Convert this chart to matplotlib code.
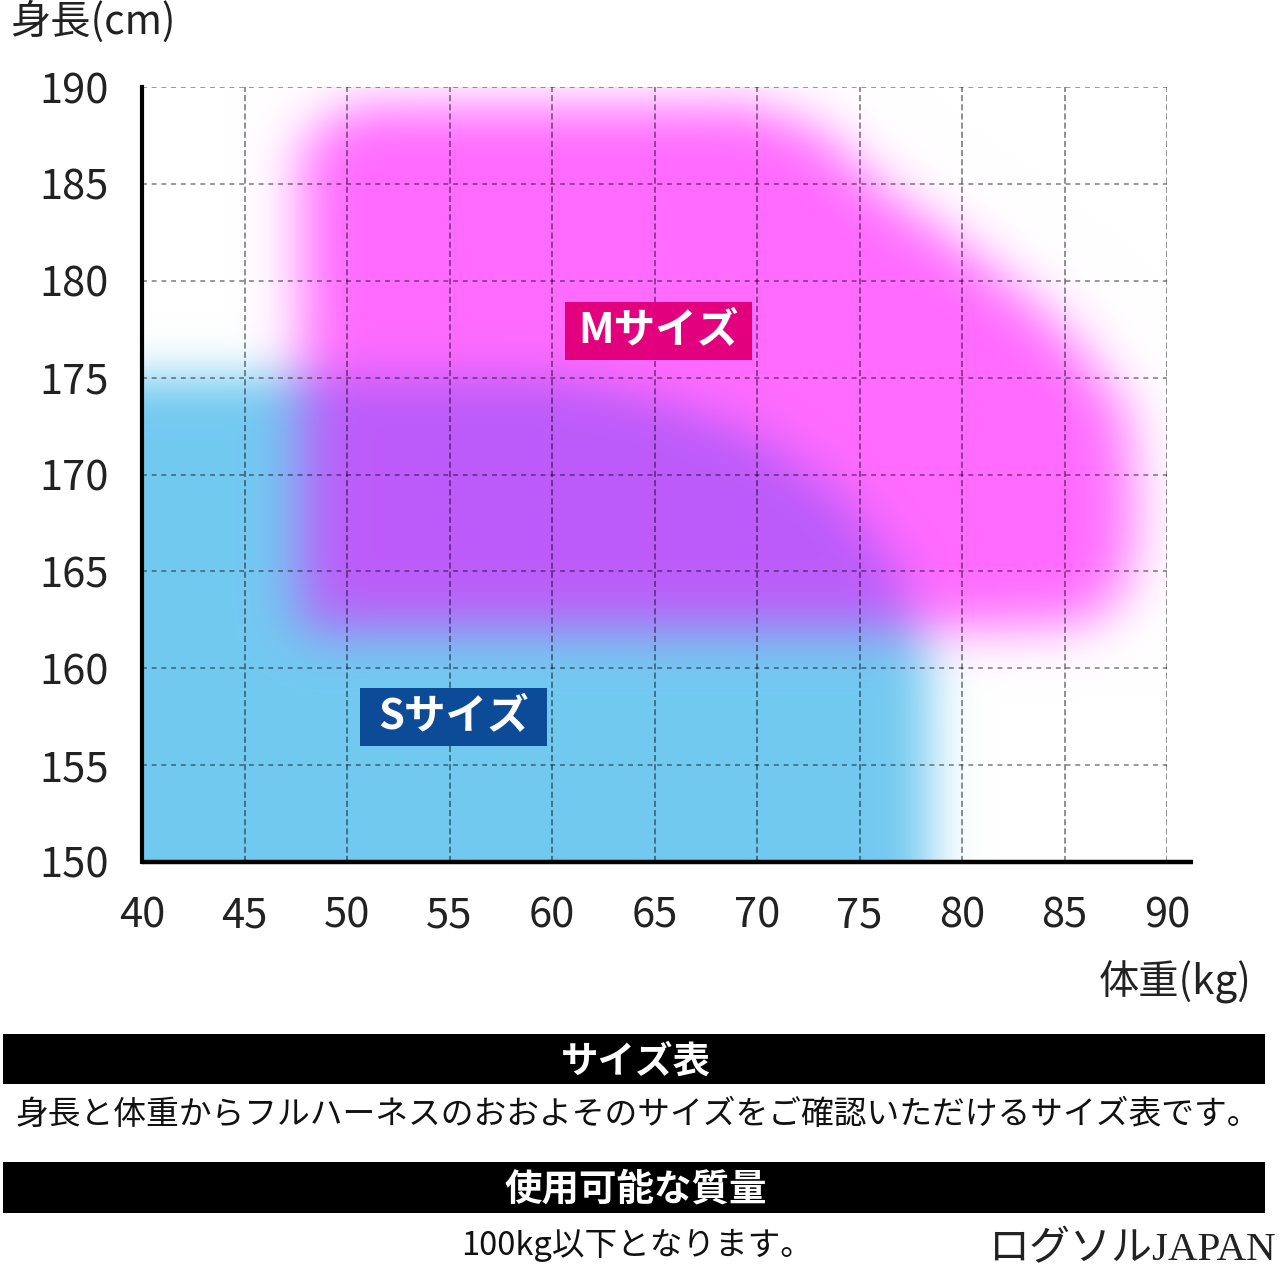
import numpy as np
import matplotlib
matplotlib.use('Agg')
import matplotlib.pyplot as plt
from matplotlib.path import Path
from matplotlib.patches import Rectangle

plt.rcParams['font.family'] = ['Noto Sans CJK JP', 'DejaVu Sans']

# axis ticks
weight_ticks = [40, 45, 50, 55, 60, 65, 70, 75, 80, 85, 90]
height_ticks = [150, 155, 160, 165, 170, 175, 180, 185, 190]

# S size area (kg, cm) - runs past the axes so the left/bottom edges stay sharp
s_weight = [30, 30, 60, 65, 70, 74, 77, 78.5, 78.5]
s_height = [140, 175, 175, 174, 172, 169, 165, 160, 140]

# M size area outline (kg, cm)
m_weight = [47.8, 47.8, 50, 70, 73, 76, 80, 83, 85.5, 88, 88.5, 88, 86, 80, 50]
m_height = [162, 187, 189, 189, 187.8, 184.8, 181.8, 179.3, 176.8, 173.3, 168, 164, 162.3, 162, 162]

# label boxes
size_labels = ['Mサイズ', 'Sサイズ']
label_x = [65.2, 55.2]
label_y = [177.4, 157.5]
label_bg = ['#E3007F', '#0B4B98']
box_w = 9.1   # kg
box_h = 3.0   # cm

s_rgb = np.array([0.45, 0.79, 0.945])
m_rgb = np.array([1.0, 0.42, 1.0])
mix_rgb = np.array([0.74, 0.36, 0.98])


def soft_mask(xs, ys, gx, gy, sigma):
    pts = np.column_stack([gx.ravel(), gy.ravel()])
    inside = Path(np.column_stack([xs, ys])).contains_points(pts)
    inside = inside.reshape(gx.shape).astype(float)
    step = gx[0, 1] - gx[0, 0]
    r = int(3 * sigma / step)
    k = np.exp(-0.5 * (np.arange(-r, r + 1) * step / sigma) ** 2)
    k /= k.sum()
    inside = np.apply_along_axis(lambda v: np.convolve(v, k, mode='same'), 1, inside)
    inside = np.apply_along_axis(lambda v: np.convolve(v, k, mode='same'), 0, inside)
    return inside


gx, gy = np.meshgrid(np.arange(30, 100.01, 0.1), np.arange(140, 200.01, 0.1))
s = soft_mask(s_weight, s_height, gx, gy, 1.15)[..., None]
m = soft_mask(m_weight, m_height, gx, gy, 1.3)[..., None]
img = (1 - s) * (1 - m) * 1.0 + s * (1 - m) * s_rgb + (1 - s) * m * m_rgb + s * m * mix_rgb
img = np.clip(img, 0, 1)

fig = plt.figure(figsize=(12.8, 12.78), dpi=100)
ax = fig.add_axes([142 / 1280, 1 - 862 / 1278, 1025 / 1280, 775 / 1278])
ax.imshow(img, origin='lower', extent=[30, 100, 140, 200], aspect='auto',
          interpolation='bilinear', zorder=0)
ax.set_xlim(40, 90)
ax.set_ylim(150, 190)

# grid
for w in weight_ticks[1:]:
    ax.axvline(w, color='black', alpha=0.55, lw=1.1, ls=(0, (4, 2)), zorder=2)
for h in height_ticks[1:]:
    ax.axhline(h, color='black', alpha=0.4, lw=1.4, ls=(0, (2.5, 2.5)), zorder=2)

for sp in ['top', 'right', 'bottom']:
    ax.spines[sp].set_visible(False)
ax.spines['left'].set_linewidth(3)
ax.plot([0, 1.025], [0, 0], transform=ax.transAxes, color='black', lw=3.2,
        solid_capstyle='butt', clip_on=False, zorder=5)

ax.set_xticks(weight_ticks)
ax.set_yticks(height_ticks)
ax.tick_params(length=0, labelsize=30, colors='#222222')
ax.tick_params(axis='x', pad=24)
ax.tick_params(axis='y', pad=24)

for txt, x, y, bg in zip(size_labels, label_x, label_y, label_bg):
    ax.add_patch(Rectangle((x - box_w / 2, y - box_h / 2), box_w, box_h, fc=bg, ec='none', zorder=6))
    ax.text(x, y, txt, ha='center', va='center', fontsize=30, fontweight='bold',
            color='white', zorder=7)

fig.text(10 / 1280, 1 - 22 / 1278, '身長(cm)', ha='left', va='center', fontsize=29, color='#222222')
fig.text(1252 / 1280, 1 - 982 / 1278, '体重(kg)', ha='right', va='center', fontsize=29, color='#222222')

# bottom info blocks
for top, bot, title in [(1034, 1084, 'サイズ表'), (1162, 1213, '使用可能な質量')]:
    fig.patches.append(Rectangle((3 / 1280, 1 - bot / 1278), 1262 / 1280, (bot - top) / 1278,
                                 transform=fig.transFigure, fc='black', ec='none'))
    fig.text(636 / 1280, 1 - (top + bot + 4) / 2 / 1278, title, ha='center', va='center',
             fontsize=27, fontweight='bold', color='white')

fig.text(638 / 1280, 1 - 1115 / 1278, '身長と体重からフルハーネスのおおよそのサイズをご確認いただけるサイズ表です。',
         ha='center', va='center', fontsize=23.6, color='#111111')
fig.text(637 / 1280, 1 - 1245 / 1278, '100kg以下となります。', ha='center', va='center',
         fontsize=23.5, color='#111111')
fig.text(1276 / 1280, 1 - 1251 / 1278, 'ログソルJAPAN', ha='right', va='center', fontsize=29.5,
         color='#222222', family=['Liberation Serif', 'Noto Sans CJK JP'])

fig.savefig('out.png', dpi=100)
